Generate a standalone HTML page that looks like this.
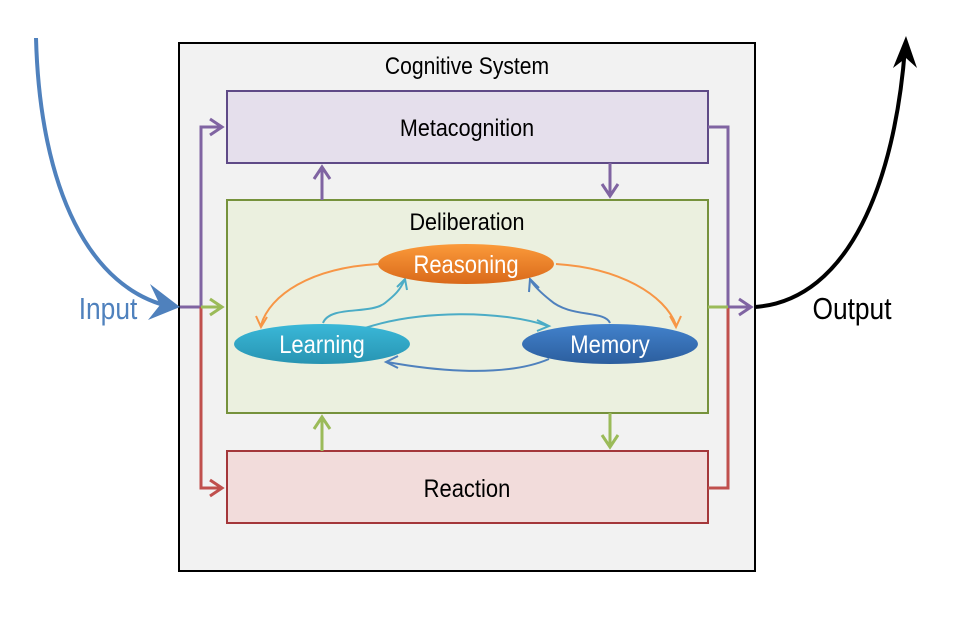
<!DOCTYPE html>
<html><head><meta charset="utf-8"><style>
html,body{margin:0;padding:0;background:#fff;width:960px;height:624px;overflow:hidden}
text{font-family:"Liberation Sans",sans-serif;}
</style></head><body>
<svg width="960" height="624" viewBox="0 0 960 624" xmlns="http://www.w3.org/2000/svg">
<defs>
<linearGradient id="gO" x1="0" y1="0" x2="0" y2="1"><stop offset="0" stop-color="#fb9a3a"/><stop offset="1" stop-color="#d9691a"/></linearGradient>
<linearGradient id="gL" x1="0" y1="0" x2="0" y2="1"><stop offset="0" stop-color="#3ab8d8"/><stop offset="1" stop-color="#2894b2"/></linearGradient>
<linearGradient id="gM" x1="0" y1="0" x2="0" y2="1"><stop offset="0" stop-color="#4282cc"/><stop offset="1" stop-color="#2c5e9e"/></linearGradient>
</defs>
<rect x="179" y="43" width="576" height="528" fill="#f2f2f2" stroke="#000" stroke-width="2"/>
<text x="467" y="74" font-size="24" text-anchor="middle" transform="translate(467 0) scale(0.88 1) translate(-467 0)">Cognitive System</text>
<rect x="227" y="91" width="481" height="72" fill="#e5dfec" stroke="#5f4a87" stroke-width="2"/>
<text x="467" y="136" font-size="24.5" text-anchor="middle" transform="translate(467 0) scale(0.88 1) translate(-467 0)">Metacognition</text>
<rect x="227" y="200" width="481" height="213" fill="#ebf0df" stroke="#76923c" stroke-width="2"/>
<text x="467" y="230" font-size="24.5" text-anchor="middle" transform="translate(467 0) scale(0.88 1) translate(-467 0)">Deliberation</text>
<rect x="227" y="451" width="481" height="72" fill="#f2dcdb" stroke="#a4373a" stroke-width="2"/>
<text x="467" y="497" font-size="25" text-anchor="middle" transform="translate(467 0) scale(0.88 1) translate(-467 0)">Reaction</text>
<g stroke="#8064a2" stroke-width="3" fill="none">
<path d="M180 307 H201 V127 H222"/>
<path d="M210 119 L222 127 L210 135"/>
<path d="M708 127 H728 V307 H750"/>
<path d="M739 299 L751 307 L739 315"/>
<path d="M322 200 V168"/><path d="M314 179 L322 167 L330 179"/>
<path d="M610 163 V195"/><path d="M602 184 L610 196 L618 184"/>
</g>
<g stroke="#c0504d" stroke-width="3" fill="none">
<path d="M201 307 V488 H222"/><path d="M210 480 L222 488 L210 496"/>
<path d="M708 488 H728 V308"/>
</g>
<g stroke="#9bbb59" stroke-width="3" fill="none">
<path d="M201 307 H222"/><path d="M210 299 L222 307 L210 315"/>
<path d="M708 307 H728"/>
<path d="M322 451 V418"/><path d="M314 429 L322 417 L330 429"/>
<path d="M610 413 V446"/><path d="M602 435 L610 447 L618 435"/>
</g>
<path d="M36 38 C40 190 90 290 172 307" stroke="#4f81bd" stroke-width="4" fill="none"/>
<path d="M150 284 L180 307 L148 320 L160 305 Z" fill="#4f81bd"/>
<text x="108" y="319" font-size="31" fill="#4f81bd" text-anchor="middle" transform="translate(108 0) scale(0.85 1) translate(-108 0)">Input</text>
<path d="M755 307 C850 300 895 180 905 48" stroke="#000" stroke-width="4" fill="none"/>
<path d="M893 68 L906 36 L917 68 L906 58 Z" fill="#000"/>
<text x="852" y="319" font-size="31" text-anchor="middle" transform="translate(852 0) scale(0.85 1) translate(-852 0)">Output</text>
<g fill="none" stroke-width="2">
<path d="M378 264 C310 268 270 295 261 325" stroke="#f79646"/>
<path d="M256 316 L261 327 L267 317" stroke="#f79646"/>
<path d="M556 264 C620 268 665 295 676 325" stroke="#f79646"/>
<path d="M670 316 L676 327 L681 316" stroke="#f79646"/>
<path d="M323 323 C330 305 370 315 385 303 C395 295 400 290 404 281" stroke="#4bacc6"/>
<path d="M397 287 L405 279 L407 290" stroke="#4bacc6"/>
<path d="M365 328 C420 310 500 310 548 326" stroke="#4bacc6"/>
<path d="M537 320 L549 326 L537 331" stroke="#4bacc6"/>
<path d="M610 323 C605 310 570 318 550 300 C540 292 535 287 531 281" stroke="#4f81bd"/>
<path d="M529 292 L530 279 L539 288" stroke="#4f81bd"/>
<path d="M549 359 C500 380 420 368 387 362" stroke="#4f81bd"/>
<path d="M398 356 L386 362 L398 368" stroke="#4f81bd"/>
</g>
<ellipse cx="466" cy="264" rx="88" ry="20" fill="url(#gO)"/>
<text x="466" y="273" font-size="25" fill="#fff" text-anchor="middle" transform="translate(466 0) scale(0.88 1) translate(-466 0)">Reasoning</text>
<ellipse cx="322" cy="344" rx="88" ry="20" fill="url(#gL)"/>
<text x="322" y="353" font-size="25" fill="#fff" text-anchor="middle" transform="translate(322 0) scale(0.88 1) translate(-322 0)">Learning</text>
<ellipse cx="610" cy="344" rx="88" ry="20" fill="url(#gM)"/>
<text x="610" y="353" font-size="25" fill="#fff" text-anchor="middle" transform="translate(610 0) scale(0.88 1) translate(-610 0)">Memory</text>
</svg>
</body></html>
